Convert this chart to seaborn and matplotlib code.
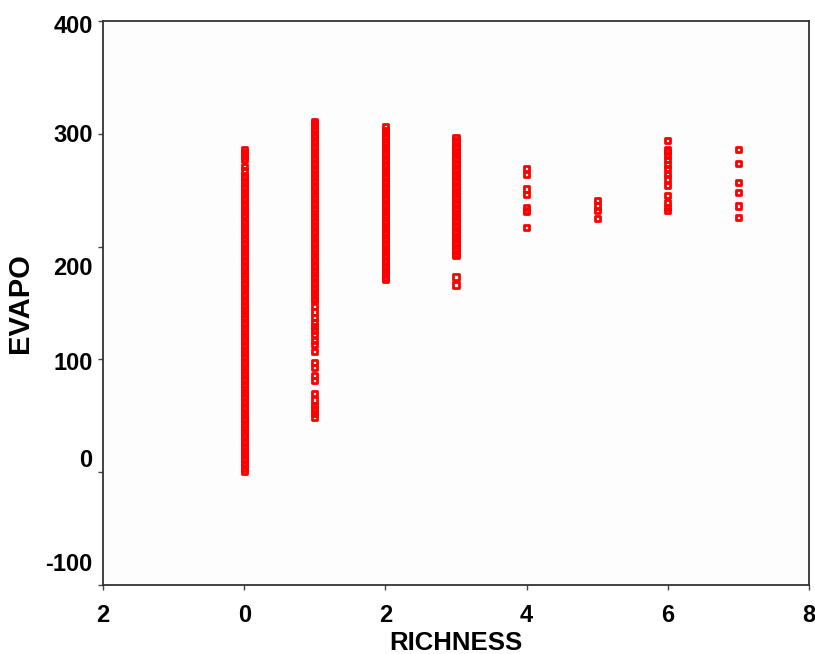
import matplotlib
matplotlib.use("Agg")
import matplotlib.pyplot as plt
import matplotlib.transforms as mtransforms
import seaborn as sns
import pandas as pd

# EVAPO values, one list per RICHNESS level
evapo_r0 = [1, 3, 6, 8, 11, 13, 16, 18, 21, 23, 26, 28, 31, 33, 36, 38, 41, 43, 46, 48,
            51, 53, 56, 58, 61, 63, 66, 68, 71, 73, 76, 78, 81, 83, 86, 88, 91, 93, 96, 98,
            101, 103, 106, 108, 111, 113, 116, 118, 121, 123, 126, 128, 131, 133, 136, 138,
            141, 143, 146, 148, 151, 153, 156, 158, 161, 163, 166, 168, 171, 173, 176, 178,
            181, 183, 186, 188, 191, 193, 196, 198, 201, 203, 206, 208, 211, 213, 216, 218,
            221, 223, 226, 228, 231, 233, 236, 238, 241, 243, 246, 248, 251, 253, 256, 258,
            261, 263, 267, 271, 277, 280, 283, 286]
evapo_r1 = [49, 52, 56, 59, 64, 70, 81, 86, 93, 97, 107, 113, 117, 122, 126, 129, 133, 137,
            142, 147, 152, 154, 157, 159, 162, 164, 167, 169, 172, 174, 177, 179, 182, 184,
            187, 189, 192, 194, 197, 199, 202, 204, 207, 209, 212, 214, 217, 219, 222, 224,
            227, 229, 232, 234, 237, 239, 242, 244, 247, 249, 252, 254, 257, 259, 262, 264,
            267, 269, 272, 274, 277, 279, 282, 284, 287, 289, 292, 294, 297, 299, 302, 304,
            307, 309, 311]
evapo_r2 = [171, 173, 176, 178, 181, 183, 186, 188, 191, 193, 196, 198, 201, 203, 206, 208,
            211, 213, 216, 218, 221, 223, 226, 228, 231, 233, 236, 238, 241, 243, 246, 248,
            251, 253, 256, 258, 261, 263, 266, 268, 271, 273, 276, 278, 281, 283, 286, 288,
            291, 293, 296, 298, 301, 303, 306]
evapo_r3 = [166, 173, 192, 194, 197, 199, 202, 204, 207, 209, 212, 214, 217, 219, 222, 224,
            227, 229, 232, 234, 237, 239, 242, 244, 247, 249, 252, 254, 257, 259, 262, 264,
            267, 269, 272, 274, 277, 279, 282, 284, 287, 289, 292, 294, 297]
evapo_r4 = [217, 231, 232, 235, 246, 251, 264, 269]
evapo_r5 = [225, 232, 236, 241]
evapo_r6 = [232, 235, 239, 245, 254, 260, 264, 269, 273, 277, 281, 284, 286, 294]
evapo_r7 = [226, 236, 248, 257, 274, 286]

levels = [0, 1, 2, 3, 4, 5, 6, 7]
columns = [evapo_r0, evapo_r1, evapo_r2, evapo_r3, evapo_r4, evapo_r5, evapo_r6, evapo_r7]

x_ticks = [-2, 0, 2, 4, 6, 8]
x_ticklabels = ["2", "0", "2", "4", "6", "8"]   # minus sign is missing in the original
y_ticks = [-100, 0, 100, 200, 300, 400]
y_ticklabels = ["-100", "0", "100", "200", "300", "400"]
# vertical misplacement of the y labels in the original (pixels, downward)
y_label_shift = [-23, -14, 2, 19, -1, 3]

rows = []
for lev, vals in zip(levels, columns):
    for v in vals:
        rows.append({"RICHNESS": lev, "EVAPO": v})
df = pd.DataFrame(rows)

sns.set_style("white")
plt.rcParams["font.family"] = ["Liberation Sans", "DejaVu Sans"]
plt.rcParams["font.weight"] = "bold"

fig = plt.figure(figsize=(8.15, 6.54), dpi=100)
ax = fig.add_axes([0.1264, 0.1055, 0.8662, 0.8624])
ax.set_facecolor("#fdfdfd")

# hollow red squares; dense columns merge into solid bars
sns.scatterplot(data=df, x="RICHNESS", y="EVAPO", ax=ax, marker="s", s=14,
                facecolors="none", edgecolors="#ff0000", linewidths=2.0, legend=False)

ax.set_xlim(-2, 8)
ax.set_ylim(-100, 400)
ax.set_xticks(x_ticks)
ax.set_xticklabels(x_ticklabels)
ax.set_yticks(y_ticks)
ax.set_yticklabels(y_ticklabels)

for sp in ax.spines.values():
    sp.set_color("#333333")
    sp.set_linewidth(1.3)

ax.tick_params(axis="both", direction="out", length=3.5, width=1.0, color="#444444",
               labelsize=17, labelcolor="black")
ax.tick_params(axis="x", pad=10, bottom=True)
ax.tick_params(axis="y", pad=4, left=True)

for lab, d in zip(ax.get_yticklabels(), y_label_shift):
    off = mtransforms.ScaledTranslation(0, -d / 100, fig.dpi_scale_trans)
    lab.set_transform(lab.get_transform() + off)

ax.set_xlabel("RICHNESS", fontsize=18.5, fontweight="bold", color="black", labelpad=3)
ax.set_ylabel("EVAPO", fontsize=21, fontweight="bold", color="black", labelpad=8)

fig.savefig("out.png", dpi=100, facecolor="white")
